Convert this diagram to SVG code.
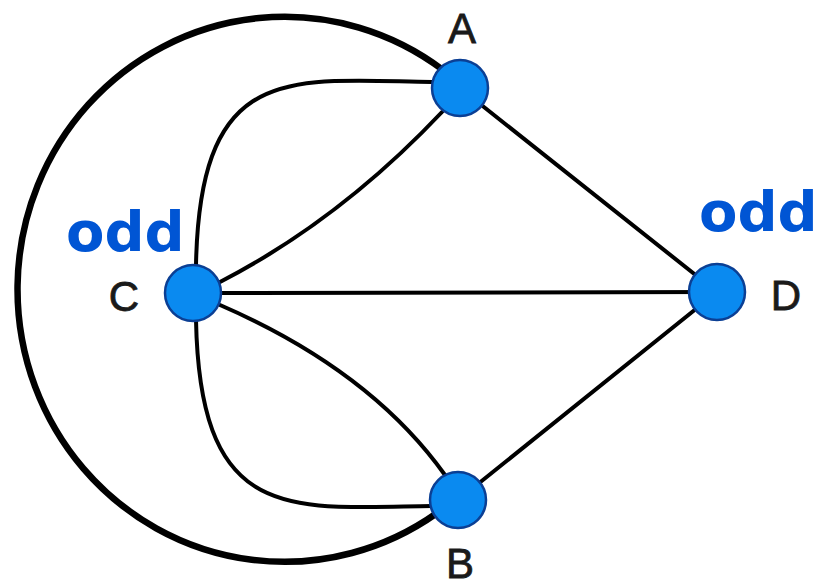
<svg xmlns="http://www.w3.org/2000/svg" width="820" height="586" viewBox="0 0 820 586">
<style>
.e{fill:none;stroke:#000;stroke-width:4;stroke-linecap:round}
.big{fill:none;stroke:#000;stroke-width:6.5}
.n{fill:#0a8af0;stroke:#0b3f94;stroke-width:2.5}
.lbl{font-family:"Liberation Sans",Arial,sans-serif;font-size:42px;fill:#1a1a1a;stroke:#1a1a1a;stroke-width:0.8;text-anchor:middle}
.odd{font-family:"DejaVu Sans",Verdana,sans-serif;font-weight:bold;font-size:56px;fill:#0055d4}
</style>
<rect width="820" height="586" fill="#fff"/>
<g id="connectors">
<path class="big" d="M443,70 A267,272.5 0 1 0 437,513"/>
<line class="e" x1="460" y1="88" x2="717" y2="292"/>
<line class="e" x1="193" y1="293" x2="717" y2="292"/>
<line class="e" x1="458" y1="500" x2="717" y2="292"/>
<path class="e" d="M220,282 Q340,220 442,112"/>
<path class="e" d="M196,265 C200,60 290,80 432,82"/>
<path class="e" d="M196,320 C200,525 290,508 432,506"/>
<path class="e" d="M220,305 Q370,370 445,475"/>
</g>
<g id="node-A"><circle class="n" cx="460" cy="88" r="28"/><text class="lbl" x="462" y="43">A</text></g>
<g id="node-C"><circle class="n" cx="193" cy="293" r="28"/><text class="lbl" x="124" y="311">C</text></g>
<g id="node-D"><circle class="n" cx="717" cy="292" r="28"/><text class="lbl" x="786" y="310">D</text></g>
<g id="node-B"><circle class="n" cx="458" cy="500" r="28"/><text class="lbl" x="460" y="578">B</text></g>
<text class="odd" x="66" y="251">odd</text>
<text class="odd" x="699" y="231">odd</text>
</svg>
